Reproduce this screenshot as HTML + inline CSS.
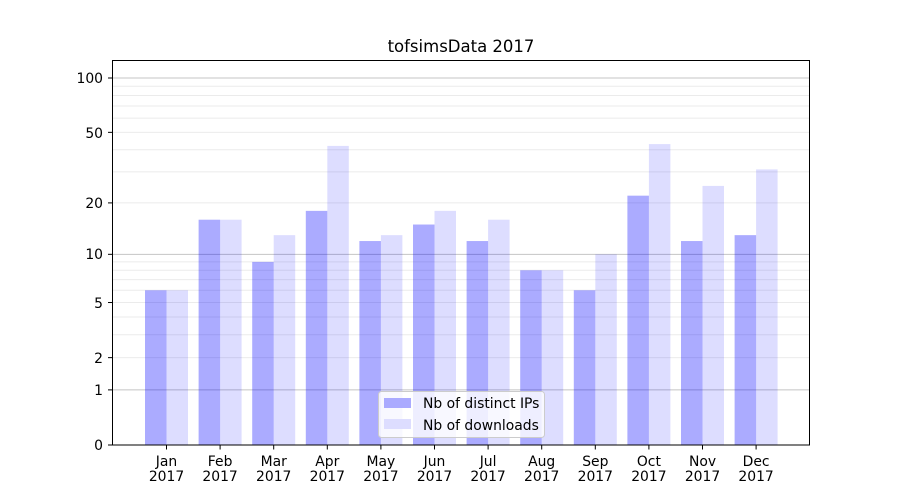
<!DOCTYPE html>
<html><head><meta charset="utf-8"><style>
body{margin:0;background:#fff}
svg{display:block;font-family:"DejaVu Sans","Liberation Sans",sans-serif}
</style></head><body>
<svg id="s" width="900" height="500" viewBox="0 0 900 500">
<rect width="900" height="500" fill="#fff"/>
<g id="grid"></g>
<g id="bars"></g>
<rect x="112.5" y="60.5" width="697" height="384.5" fill="none" stroke="#000" stroke-width="1"/>
<g id="ticks" stroke="#000" stroke-width="1"></g>
<g font-size="13.9" fill="#000" text-anchor="end">
<text x="103" y="83">100</text>
<text x="103" y="138">50</text>
<text x="103" y="208">20</text>
<text x="103" y="259">10</text>
<text x="103" y="308">5</text>
<text x="103" y="363">2</text>
<text x="103" y="395">1</text>
<text x="103" y="450">0</text>
</g>
<g font-size="13.9" fill="#000" text-anchor="middle" id="xl">
<text x="166.5" y="466">Jan</text><text x="166.5" y="481">2017</text>
<text x="220.1" y="466">Feb</text><text x="220.1" y="481">2017</text>
<text x="273.7" y="466">Mar</text><text x="273.7" y="481">2017</text>
<text x="327.3" y="466">Apr</text><text x="327.3" y="481">2017</text>
<text x="380.9" y="466">May</text><text x="380.9" y="481">2017</text>
<text x="434.5" y="466">Jun</text><text x="434.5" y="481">2017</text>
<text x="488.1" y="466">Jul</text><text x="488.1" y="481">2017</text>
<text x="541.7" y="466">Aug</text><text x="541.7" y="481">2017</text>
<text x="595.3" y="466">Sep</text><text x="595.3" y="481">2017</text>
<text x="648.9" y="466">Oct</text><text x="648.9" y="481">2017</text>
<text x="702.5" y="466">Nov</text><text x="702.5" y="481">2017</text>
<text x="756.1" y="466">Dec</text><text x="756.1" y="481">2017</text>
</g>
<text x="461" y="52" font-size="16.5" text-anchor="middle">tofsimsData 2017</text>
<g>
<rect x="378.5" y="391.5" width="166" height="46" rx="3" fill="#fff" fill-opacity="0.8" stroke="#ccc"/>
<rect x="384" y="398" width="27" height="10" fill="#aaaaff"/>
<rect x="384" y="419" width="27" height="10" fill="#ddddff"/>
<text x="423" y="408" font-size="13.9">Nb of distinct IPs</text>
<text x="423" y="430" font-size="13.9">Nb of downloads</text>
</g>
</svg>
<script>
var NS="http://www.w3.org/2000/svg";
function Y(v){return 445-183.1*Math.log10(v+1);}
function el(p,t,a){var e=document.createElementNS(NS,t);for(var k in a)e.setAttribute(k,a[k]);p.appendChild(e);return e;}
var g=document.getElementById("grid"),tk=document.getElementById("ticks"),b=document.getElementById("bars");
var minors=[2,3,4,5,6,7,8,9,20,30,40,50,60,70,80,90];
minors.forEach(function(v){var y=Y(v);el(g,"line",{x1:113,x2:810,y1:y,y2:y,stroke:"#ebebeb","stroke-width":1});});
[1,10,100].forEach(function(v){var y=Y(v);el(g,"line",{x1:113,x2:810,y1:y,y2:y,stroke:"#c4c4c4","stroke-width":1});});
[100,50,20,10,5,2,1,0].forEach(function(v){var y=Y(v);el(tk,"line",{x1:108,x2:112.5,y1:y,y2:y});});
var ip=[6,16,9,18,12,15,12,8,6,22,12,13],dl=[6,16,13,42,13,18,16,8,10,43,25,31];
for(var i=0;i<12;i++){var c=166.5+i*53.6;
el(b,"rect",{x:c-21.5,y:Y(ip[i]),width:21.5,height:445-Y(ip[i]),fill:"#0000ff","fill-opacity":0.33});
el(b,"rect",{x:c,y:Y(dl[i]),width:21.5,height:445-Y(dl[i]),fill:"#0000ff","fill-opacity":0.135});
el(tk,"line",{x1:c,x2:c,y1:445,y2:449.5});}
</script>
</body></html>
